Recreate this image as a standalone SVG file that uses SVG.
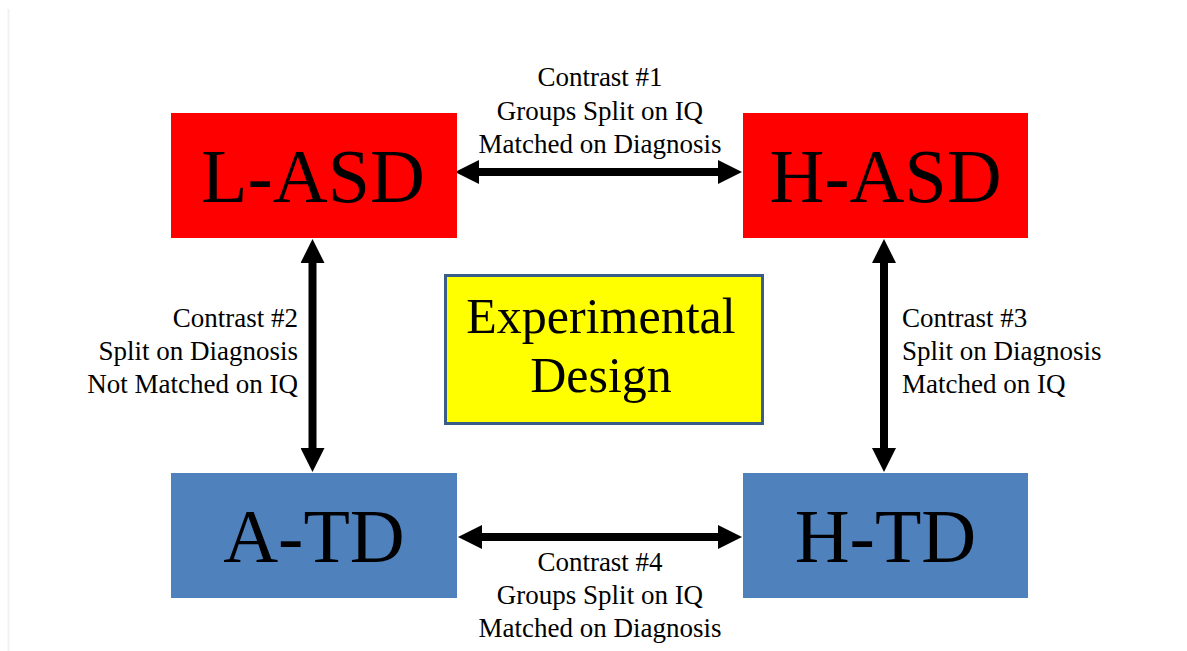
<svg xmlns="http://www.w3.org/2000/svg" width="1187" height="651" viewBox="0 0 1187 651">
  <style>
    .asd { fill: #ff0000; }
    .td { fill: #4f81bd; }
    .big { font-family: "Liberation Serif", "Times New Roman", serif; font-size: 76px; fill: #000; text-anchor: middle; }
    .title { font-family: "Liberation Serif", "Times New Roman", serif; font-size: 50px; fill: #000; text-anchor: middle; }
    .lbl { font-family: "Liberation Serif", "Times New Roman", serif; font-size: 27px; fill: #000; }
    .conn { stroke: #000; stroke-width: 8; fill: none; marker-start: url(#head); marker-end: url(#head); }
  </style>
  <defs>
    <marker id="head" markerUnits="userSpaceOnUse" markerWidth="24" markerHeight="24" refX="4" refY="12" orient="auto-start-reverse">
      <path d="M0,0 L24,12 L0,24 z" fill="#000"/>
    </marker>
  </defs>

  <rect width="1187" height="651" fill="#ffffff"/>
  <line x1="8.5" y1="9" x2="8.5" y2="651" stroke="#f2f2f2" stroke-width="2"/>

  <g id="connectors">
    <line class="conn" x1="475" y1="172" x2="722" y2="172"/>
    <line class="conn" x1="478" y1="537" x2="722" y2="537"/>
    <line class="conn" x1="312.5" y1="259" x2="312.5" y2="452"/>
    <line class="conn" x1="884" y1="259" x2="884" y2="452"/>

    <text class="lbl" text-anchor="middle" x="600" y="86">Contrast #1</text>
    <text class="lbl" text-anchor="middle" x="600" y="120">Groups Split on IQ</text>
    <text class="lbl" text-anchor="middle" x="600" y="153">Matched on Diagnosis</text>

    <text class="lbl" text-anchor="end" x="298" y="327">Contrast #2</text>
    <text class="lbl" text-anchor="end" x="298" y="360">Split on Diagnosis</text>
    <text class="lbl" text-anchor="end" x="298" y="393">Not Matched on IQ</text>

    <text class="lbl" text-anchor="start" x="902" y="327">Contrast #3</text>
    <text class="lbl" text-anchor="start" x="902" y="360">Split on Diagnosis</text>
    <text class="lbl" text-anchor="start" x="902" y="393">Matched on IQ</text>

    <text class="lbl" text-anchor="middle" x="600" y="571">Contrast #4</text>
    <text class="lbl" text-anchor="middle" x="600" y="604">Groups Split on IQ</text>
    <text class="lbl" text-anchor="middle" x="600" y="637">Matched on Diagnosis</text>
  </g>

  <g id="l-asd">
    <rect class="asd" x="171" y="113" width="286" height="125"/>
    <text class="big" x="313" y="202">L-ASD</text>
  </g>
  <g id="h-asd">
    <rect class="asd" x="743" y="113" width="285" height="125"/>
    <text class="big" x="885.5" y="202">H-ASD</text>
  </g>
  <g id="a-td">
    <rect class="td" x="171" y="473" width="286" height="125"/>
    <text class="big" x="314" y="562">A-TD</text>
  </g>
  <g id="h-td">
    <rect class="td" x="743" y="473" width="285" height="125"/>
    <text class="big" x="885.5" y="562">H-TD</text>
  </g>
  <g id="experimental-design">
    <rect x="445.5" y="275.5" width="317" height="148" fill="#ffff00" stroke="#385d8a" stroke-width="3"/>
    <text class="title" x="601" y="333">Experimental</text>
    <text class="title" x="601" y="392">Design</text>
  </g>
</svg>
